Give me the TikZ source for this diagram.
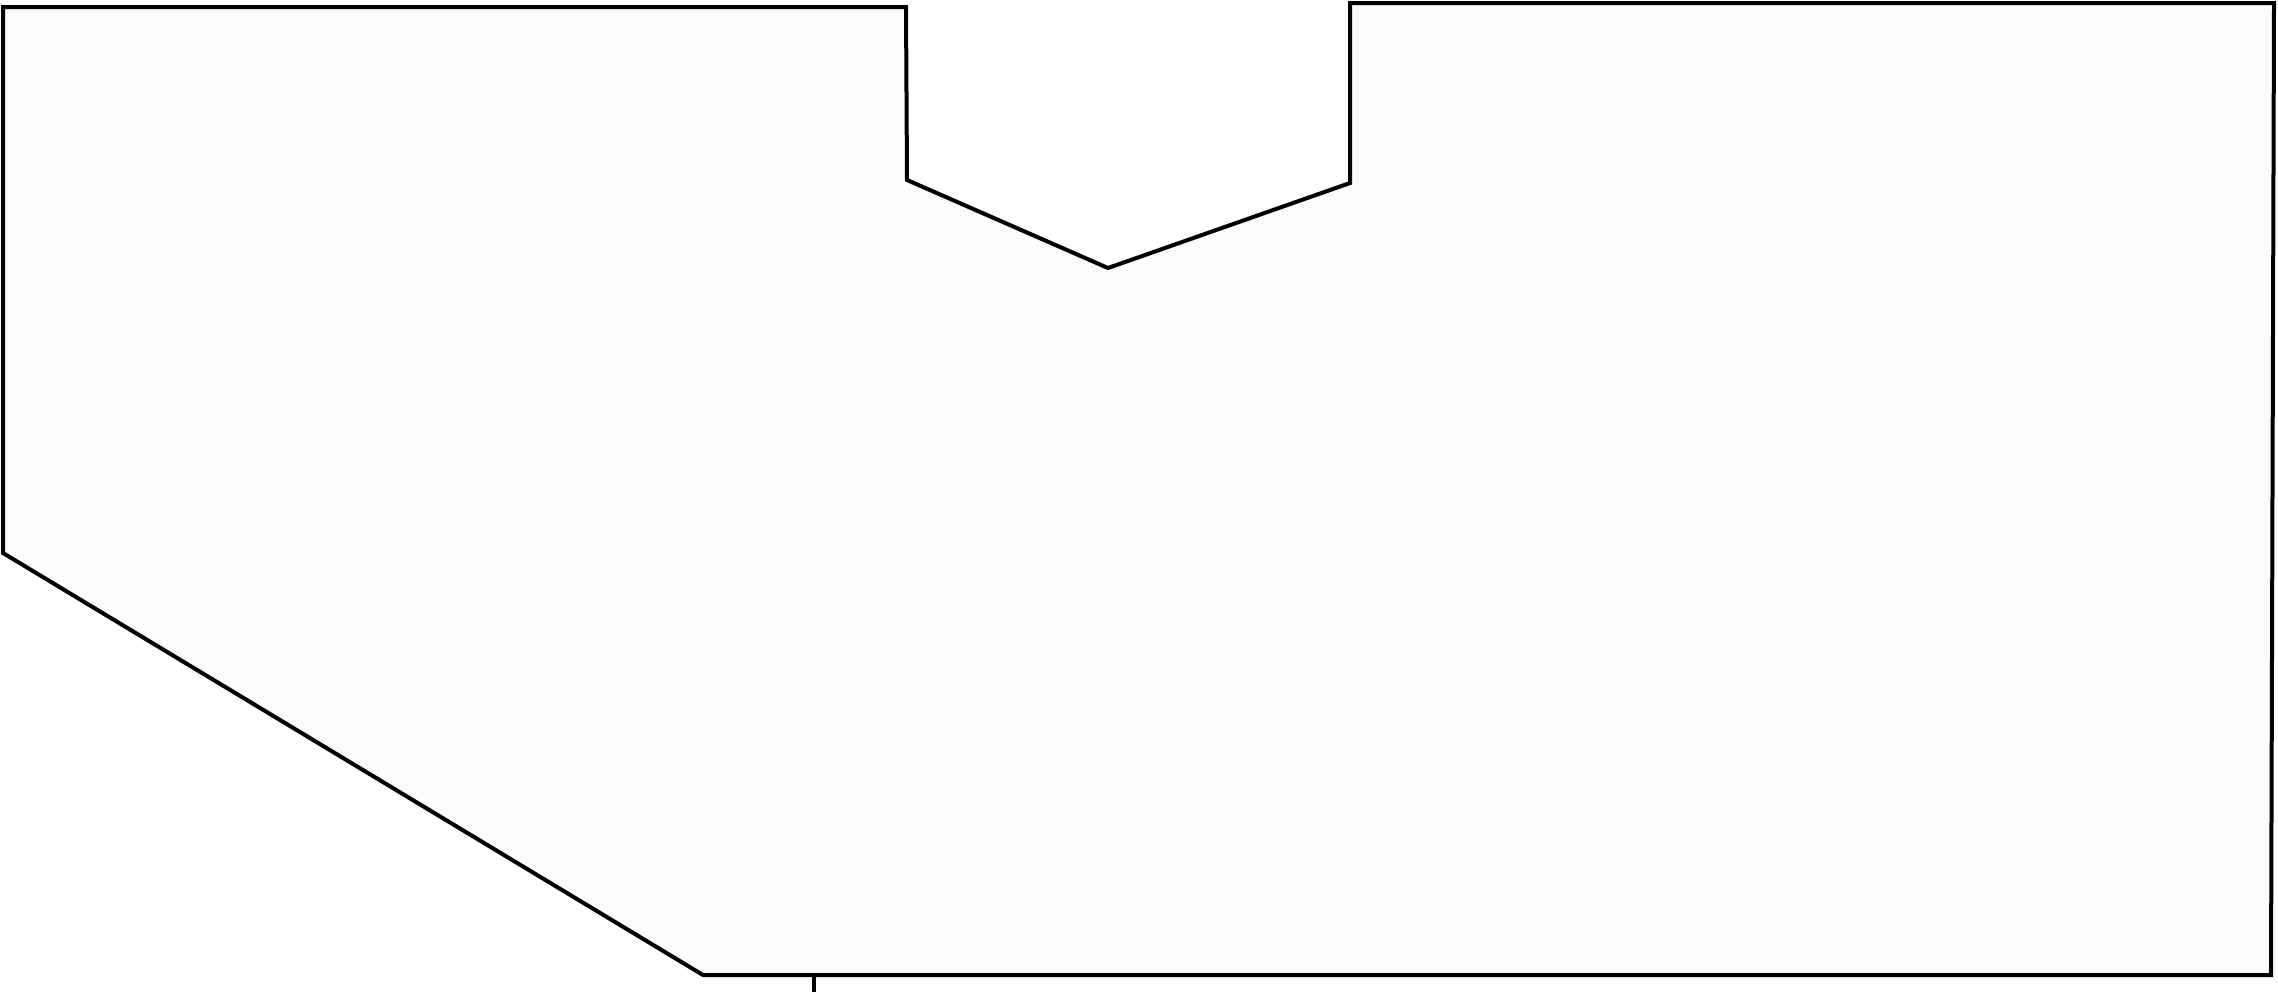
\documentclass[tikz,border=0pt]{standalone}
\definecolor{shapefill}{RGB}{251,251,251}
\tikzset{outline/.style={draw=black,line width=4pt,line join=miter,fill=shapefill}}
\begin{document}
\begin{tikzpicture}[x=1pt,y=-1pt]
\useasboundingbox (0,0) rectangle (2278,991);
\coordinate (a) at (3,7);
\coordinate (b) at (906,7);
\coordinate (c) at (907,180);
\coordinate (d) at (1108,268);
\coordinate (e) at (1350,183);
\coordinate (f) at (1350,3);
\coordinate (g) at (2274,3);
\coordinate (h) at (2271,975);
\coordinate (i) at (703,975);
\coordinate (j) at (3,553);
\coordinate (t1) at (814,975);
\coordinate (t2) at (814,995);
\path[outline] (a) -- (b) -- (c) -- (d) -- (e) -- (f) -- (g) -- (h) -- (i) -- (j) -- cycle;
\draw[line width=4pt] (t1) -- (t2);
\end{tikzpicture}
\end{document}
